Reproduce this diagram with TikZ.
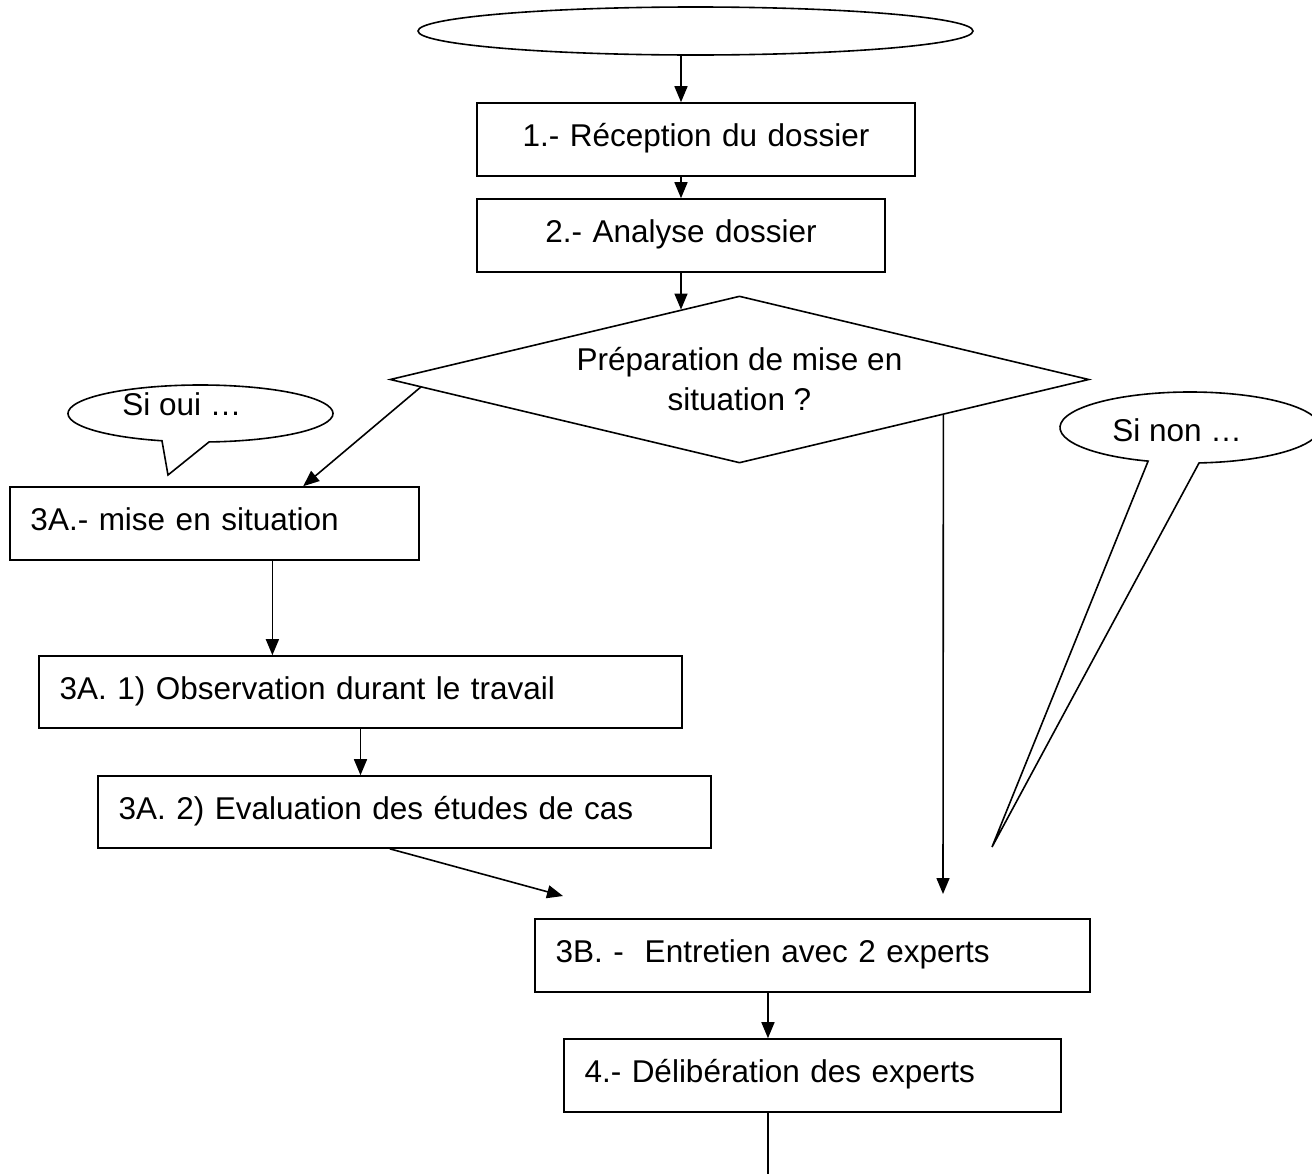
\documentclass[tikz,border=0pt]{standalone}
\usepackage{fontspec}
\setmainfont{Liberation Sans}
\usetikzlibrary{arrows.meta,shapes.geometric,calc}
\begin{document}
\begin{tikzpicture}[x=1pt,y=-1pt,line width=1.6pt,
  arr/.style={-{Triangle[length=16pt,width=13pt]}},
  txt/.style={font=\fontsize{31.5}{40}\selectfont},
  box/.style={draw, rectangle, txt, inner xsep=20.5pt, inner ysep=0pt,
    text height=21pt, text depth=7pt, align=left},
  cbox/.style={box, align=center},
  callout/.style={draw, fill=white}]
\useasboundingbox[fill=white] (0,0) rectangle (1312,1173);

% start ellipse
\node[draw, ellipse, minimum width=555pt, minimum height=48pt, inner sep=0pt] (st) at (695.5,31) {};

% boxes
\node[cbox, text width=397pt, minimum height=73pt] (b1) at (696,139.5) {1.- Réception du dossier};
\node[cbox, text width=367pt, minimum height=73pt] (b2) at (681,235.5) {2.- Analyse dossier};
\node[draw, diamond, aspect=4.2, minimum width=699pt, minimum height=167pt, inner sep=0pt,
  txt, align=center] (dia) at (739.5,379.5) {Préparation de mise en\\situation ?};
\node[box, text width=368pt, minimum height=73pt] (a3) at (214.5,523.5) {3A.- mise en situation};
\node[box, text width=602pt, minimum height=72pt] (a31) at (360.5,692) {3A. 1) Observation durant le travail};
\node[box, text width=572pt, minimum height=72pt] (a32) at (404.5,812) {3A. 2) Evaluation des études de cas};
\node[box, text width=514pt, minimum height=73pt] (b3) at (812.5,955.5) {3B. -~ Entretien avec 2 experts};
\node[box, text width=456pt, minimum height=73pt] (b4) at (812.5,1075.5) {4.- Délibération des experts};

% callouts
\draw[callout] (200.5,413.5) ++(106.9:132.5 and 28.5)
  arc[start angle=106.9, end angle=446.3, x radius=132.5, y radius=28.5]
  -- (168,475) -- cycle;
\node[txt, anchor=base west, inner sep=0pt] (oui) at (121.5,415) {Si oui …};

\draw[callout] (1190,427.5) ++(108.8:130 and 35.5)
  arc[start angle=108.8, end angle=446.0, x radius=130, y radius=35.5]
  -- (992,847) -- cycle;
\node[txt, anchor=base west, inner sep=0pt] (non) at (1111.5,441) {Si non …};

% free ends
\coordinate (na) at (563,896);
\coordinate (nb) at (943,894);
\coordinate (endb) at (768,1176);

% connectors
\draw[arr] (st.south -| b2.north) -- (b1.north -| b2.north);
\draw[arr] (b1.south -| b2.north) -- (b2.north);
\coordinate (dtop) at ($(dia.north)!0.17!(dia.west)$);
\draw[arr] (b2.south) -- (b2.south |- dtop);
\draw[arr] ($(dia.west)!0.09!(dia.south)$) -- ($(a3.north west)!0.716!(a3.north east)$);
\draw[arr] ($(dia.east)!0.418!(dia.south)$) -- (nb);
\coordinate (t1) at ($(a3.south west)!0.641!(a3.south east)$);
\draw[arr] (t1) -- (t1 |- a31.north);
\draw[arr] (a31.south) -- (a31.south |- a32.north);
\draw[arr] ($(a32.south west)!0.476!(a32.south east)$) -- (na);
\coordinate (t3) at ($(b3.south west)!0.42!(b3.south east)$);
\draw[arr] (t3) -- (t3 |- b4.north);
\draw (t3 |- b4.south) -- (endb);
\end{tikzpicture}
\end{document}
